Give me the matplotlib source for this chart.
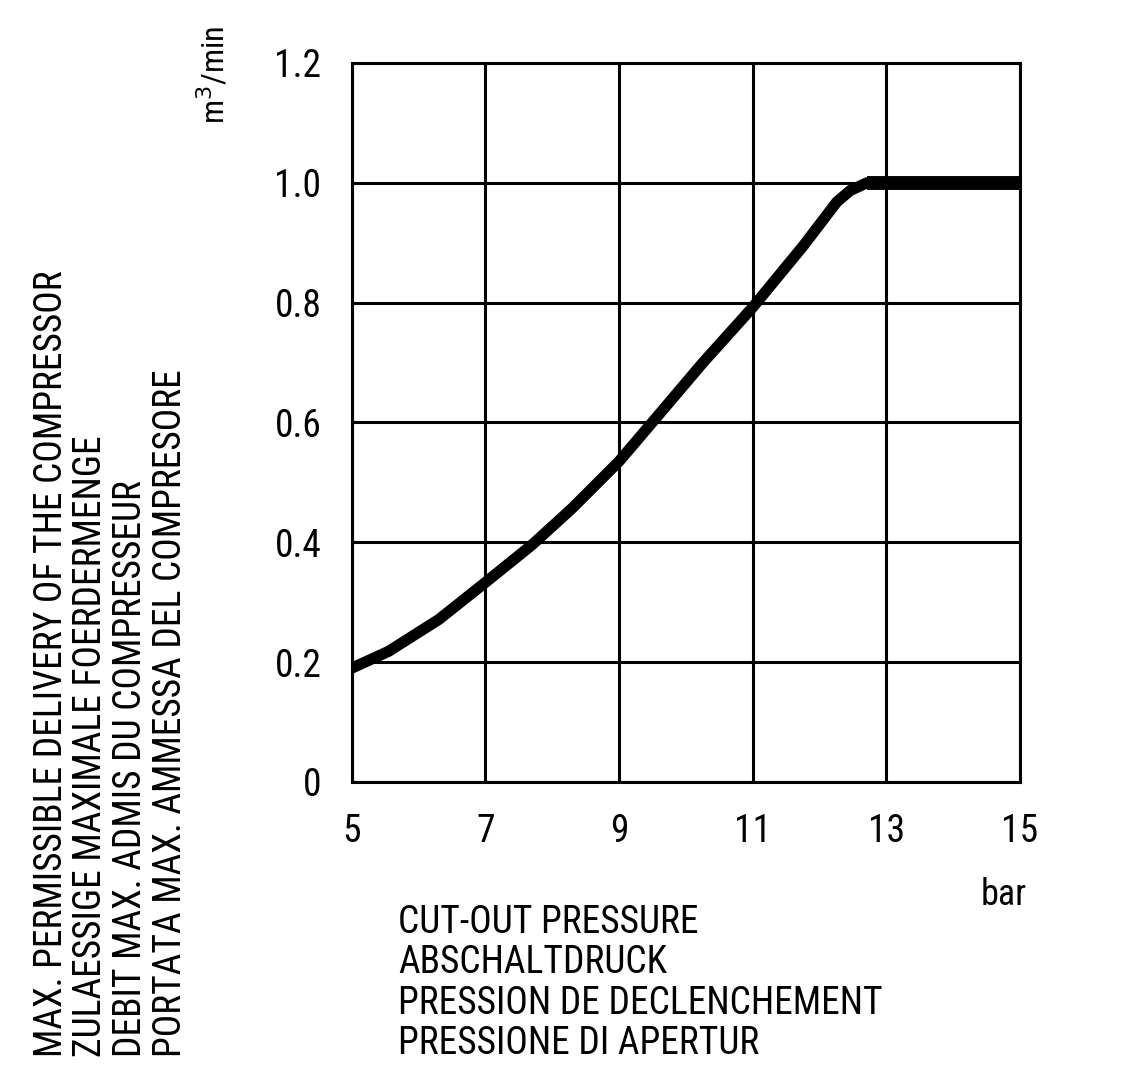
import matplotlib.pyplot as plt

# cut-out pressure (bar) vs max. delivery (m3/min)
pressure = [5.0, 5.55, 6.3, 7.0, 7.7, 8.3, 9.0, 9.55, 10.25, 11.0, 11.76, 12.26, 12.46, 12.71, 15.0]
delivery = [0.19, 0.218, 0.271, 0.333, 0.396, 0.457, 0.535, 0.607, 0.699, 0.792, 0.895, 0.968, 0.987, 1.0, 1.0]

xticks = [5, 7, 9, 11, 13, 15]
yticks = [0, 0.2, 0.4, 0.6, 0.8, 1.0, 1.2]
ylabels = ['0', '0.2', '0.4', '0.6', '0.8', '1.0', '1.2']

ylabel_lines = ['MAX. PERMISSIBLE DELIVERY OF THE COMPRESSOR',
                'ZULAESSIGE MAXIMALE FOERDERMENGE',
                'DEBIT MAX. ADMIS DU COMPRESSEUR',
                'PORTATA MAX. AMMESSA DEL COMPRESORE']
xlabel_lines = ['CUT-OUT PRESSURE',
                'ABSCHALTDRUCK',
                'PRESSION DE DECLENCHEMENT',
                'PRESSIONE DI APERTUR']

plt.rcParams['font.family'] = ['Roboto Condensed', 'Archivo Narrow', 'PT Sans Narrow', 'DejaVu Sans']

fig = plt.figure(figsize=(11.24, 10.82), dpi=100)
ax = fig.add_axes([0.313, 0.2773, 0.5943, 0.6645])

ax.plot(pressure, delivery, color='black', lw=8, solid_joinstyle='round',
        solid_capstyle='butt', zorder=3)
# the plateau is drawn a bit heavier in the original
flat_x = [p for p, d in zip(pressure, delivery) if d >= 1.0]
flat_y = [d for d in delivery if d >= 1.0]
ax.plot(flat_x, flat_y, color='black', lw=10, solid_capstyle='butt', zorder=3)

ax.set_xlim(5, 15)
ax.set_ylim(0, 1.2)
ax.set_xticks(xticks)
ax.set_xticklabels([str(t) for t in xticks])
ax.set_yticks(yticks)
ax.set_yticklabels(ylabels)
ax.tick_params(length=0, labelsize=27, pad=22)
ax.grid(True, color='black', lw=2.2)
for s in ax.spines.values():
    s.set_linewidth(2.2)

fig.text(0.19, 0.931, r'm$^3$/min', rotation=90, fontsize=23,
         ha='center', va='center')
fig.text(0.893, 0.173, 'bar', fontsize=26, ha='center', va='center')

fig.text(0.354, 0.1646, '\n'.join(xlabel_lines), fontsize=27,
         ha='left', va='top', linespacing=1.12)
fig.text(0.029, 0.023, '\n'.join(ylabel_lines), rotation=90, fontsize=27,
         ha='left', va='bottom', linespacing=1.1, multialignment='left')

fig.savefig('out.png', dpi=100, facecolor='white')
